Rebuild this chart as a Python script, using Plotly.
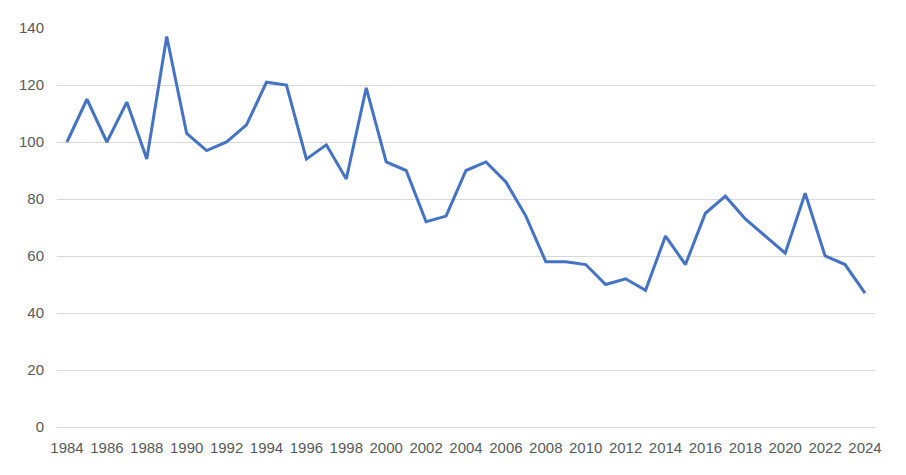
import plotly.graph_objects as go

years = list(range(1984, 2025))
values = [100, 115, 100, 114, 94, 137, 103, 97, 100, 106,
          121, 120, 94, 99, 87, 119, 93, 90, 72, 74,
          90, 93, 86, 74, 58, 58, 57, 50, 52, 48,
          67, 57, 75, 81, 73, 67, 61, 82, 60, 57, 47]
x_ticks = list(range(1984, 2025, 2))
y_ticks = list(range(0, 141, 20))

fig = go.Figure()
fig.add_trace(go.Scatter(x=years, y=values, mode="lines",
                         line=dict(color="#4472C4", width=3),
                         showlegend=False))

font = dict(family="Liberation Sans, Arial, sans-serif", size=15, color="#595959")
fig.update_layout(
    width=906, height=475,
    margin=dict(l=49, r=39, t=20, b=56, autoexpand=False),
    paper_bgcolor="white", plot_bgcolor="white",
    font=font,
)
fig.update_xaxes(range=[1983.5, 2024.5], tickmode="array", tickvals=x_ticks,
                 ticktext=[str(t) for t in x_ticks], showgrid=False,
                 zeroline=False, showline=False, ticks="", ticklabelstandoff=10,
                 tickfont=font, automargin=False)
fig.update_yaxes(range=[0, 140], tickmode="array", tickvals=y_ticks,
                 showgrid=True, gridcolor="#d9d9d9", gridwidth=1,
                 zeroline=True, zerolinecolor="#d9d9d9", zerolinewidth=1,
                 showline=False, ticks="", ticklabelstandoff=12,
                 tickfont=font, automargin=False)

fig.write_html("out.html")
